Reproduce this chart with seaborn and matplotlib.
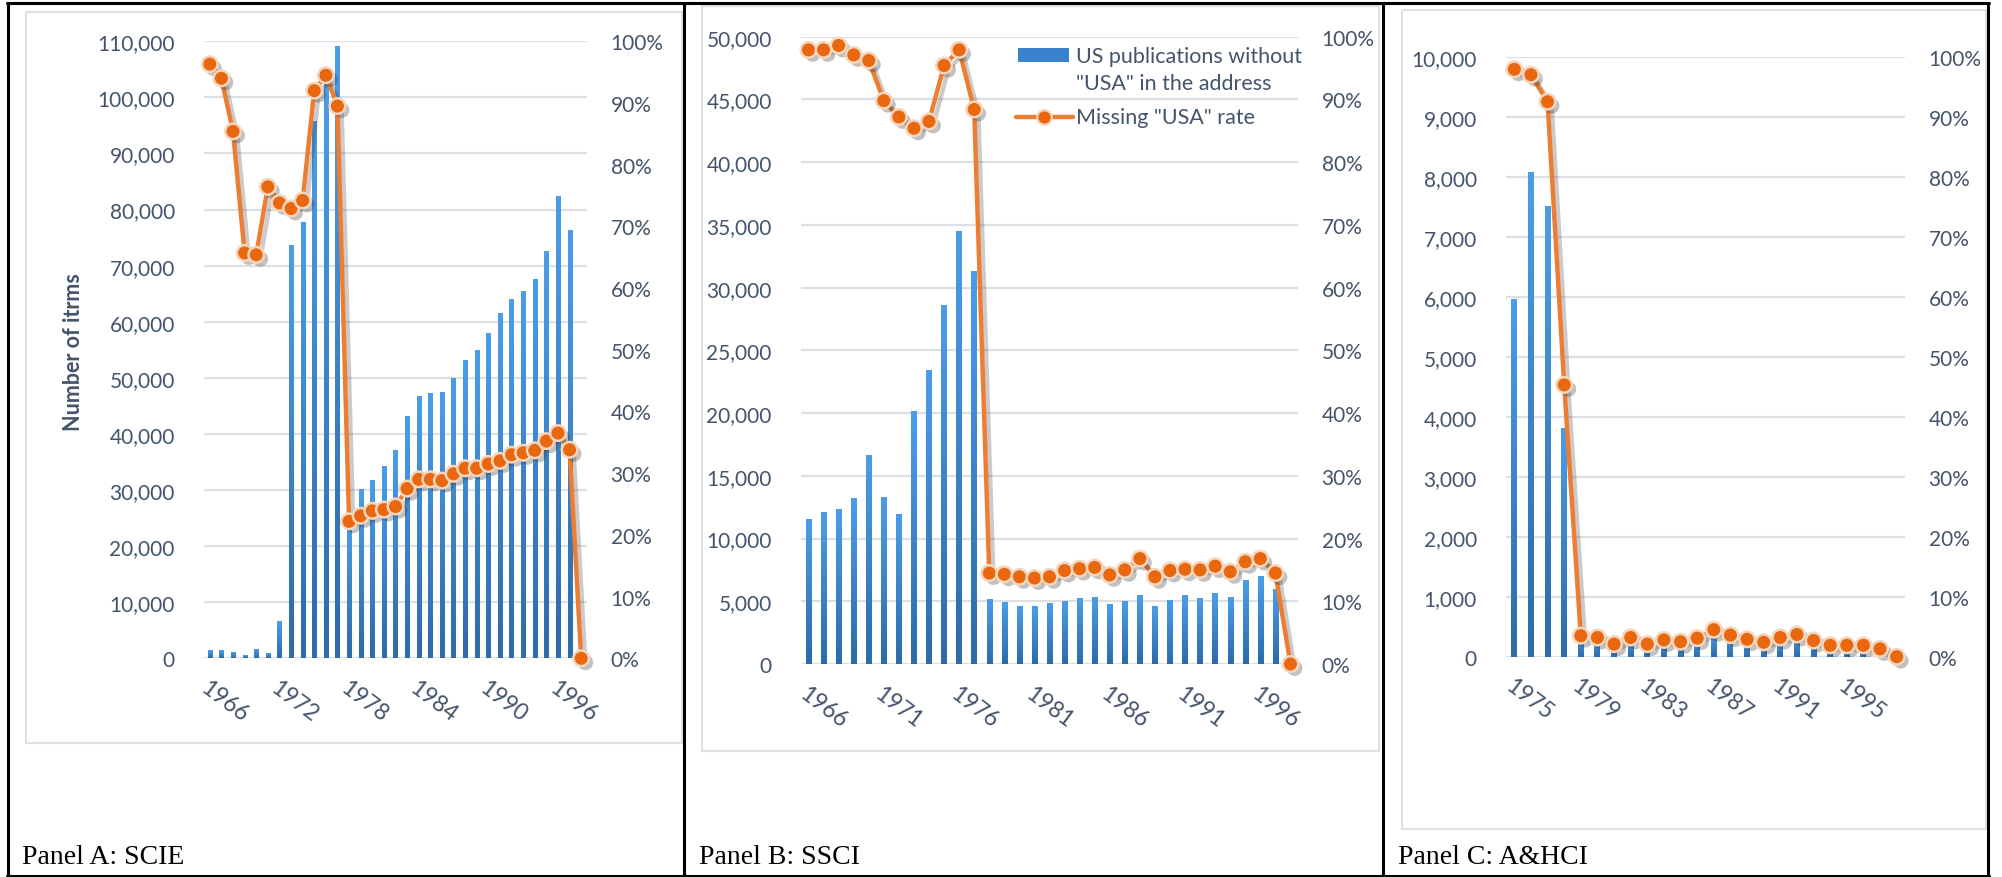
import numpy as np
import matplotlib
matplotlib.use('Agg')
import matplotlib.pyplot as plt
import matplotlib.patheffects as pe
from matplotlib.colors import LinearSegmentedColormap
from matplotlib.lines import Line2D
from matplotlib.patches import Rectangle
from matplotlib.ticker import FuncFormatter, PercentFormatter, MultipleLocator
import seaborn as sns

# ---- data ----
scie_years = list(range(1966, 1999))
scie_items = [1400, 1400, 1000, 400, 1500, 800, 6500, 73500, 77600, 95600,
              102700, 109000, 24500, 30000, 31600, 34100, 37000, 43000, 46600,
              47100, 47300, 49900, 53000, 54900, 57800, 61400, 64000, 65400,
              67400, 72400, 82300, 76300, 0]
scie_rate = [0.963, 0.940, 0.854, 0.657, 0.654, 0.764, 0.738, 0.729, 0.742,
             0.920, 0.945, 0.895, 0.222, 0.231, 0.239, 0.241, 0.246, 0.275,
             0.290, 0.290, 0.288, 0.299, 0.308, 0.308, 0.315, 0.320, 0.330,
             0.333, 0.337, 0.352, 0.365, 0.338, 0.0]

ssci_years = list(range(1966, 1999))
ssci_items = [11480, 12040, 12350, 13230, 16600, 13310, 11900, 20140, 23380,
              28560, 34510, 31320, 5180, 4940, 4620, 4620, 4810, 5020, 5260,
              5340, 4780, 5020, 5450, 4620, 5100, 5450, 5260, 5580, 5340,
              6620, 7010, 5900, 0]
ssci_rate = [0.979, 0.979, 0.986, 0.971, 0.962, 0.898, 0.872, 0.854, 0.865,
             0.954, 0.979, 0.884, 0.145, 0.143, 0.139, 0.137, 0.139, 0.149,
             0.152, 0.154, 0.142, 0.150, 0.168, 0.139, 0.149, 0.151, 0.150,
             0.156, 0.147, 0.163, 0.168, 0.145, 0.0]

ahci_years = list(range(1975, 1999))
ahci_items = [5960, 8080, 7510, 3810, 350, 320, 200, 300, 220, 270, 230, 300,
              420, 350, 300, 230, 330, 380, 280, 200, 200, 200, 150, 0]
ahci_rate = [0.979, 0.970, 0.925, 0.453, 0.035, 0.032, 0.021, 0.032, 0.021,
             0.028, 0.025, 0.031, 0.045, 0.036, 0.029, 0.024, 0.032, 0.037,
             0.027, 0.019, 0.019, 0.019, 0.013, 0.0]

bar_label = 'US publications without\n"USA" in the address'
line_label = 'Missing "USA" rate'

# ---- styling ----
TEXT = '#44546A'
GRID = '#DCE0E6'
LINE = '#ED7D31'
MARK = '#E8670F'
MARK_EDGE = '#F3D6BE'
bar_cmap = LinearSegmentedColormap.from_list('bars', ['#2D6BAA', '#4B9DE8'])

W, H = 2002, 878


def fx(px):
    return px / W


def fy(py):
    return 1 - py / H


def draw_panel(fig, box, years, items, rate, ymax, ystep, label_step):
    left, top, right, bottom = box
    ax = fig.add_axes([fx(left), fy(bottom), fx(right - left), (bottom - top) / H])
    labels = [str(y) for y in years]
    n = len(labels)

    sns.barplot(x=labels, y=items, order=labels, ax=ax, color='#3A82CC',
                width=0.36, saturation=1, errorbar=None)

    # Excel style vertical gradient on each bar
    grad = np.linspace(1, 0, 64).reshape(-1, 1)
    for bar in list(ax.patches):
        x0, y0 = bar.get_xy()
        w, h = bar.get_width(), bar.get_height()
        if h <= 0:
            continue
        ax.imshow(grad, extent=[x0, x0 + w, y0, y0 + h], aspect='auto',
                  cmap=bar_cmap, vmin=0, vmax=1, zorder=2, interpolation='bilinear')
        bar.set_visible(False)

    ax2 = ax.twinx()
    xs = np.arange(n)
    sns.lineplot(x=xs, y=rate, ax=ax2, color=LINE, lw=3.2, clip_on=False, zorder=3,
                 path_effects=[pe.SimpleLineShadow(offset=(3, -3), shadow_color='#333333', alpha=0.25),
                               pe.Normal()])
    sns.scatterplot(x=xs, y=rate, ax=ax2, s=125, color=MARK, edgecolor=MARK_EDGE,
                    linewidth=1.8, zorder=4, clip_on=False,
                    path_effects=[pe.SimplePatchShadow(offset=(3, -3), shadow_rgbFace='#333333', alpha=0.3),
                                  pe.Normal()])

    ax.set_xlim(-0.5, n - 0.5)
    ax.set_ylim(0, ymax)
    ax2.set_ylim(0, 1)
    ax.yaxis.set_major_locator(MultipleLocator(ystep))
    ax.yaxis.set_major_formatter(FuncFormatter(lambda v, p: f'{v:,.0f}'))
    ax2.yaxis.set_major_locator(MultipleLocator(0.1))
    ax2.yaxis.set_major_formatter(PercentFormatter(1.0, decimals=0))

    ax.grid(axis='y', color=GRID, lw=1.6)
    ax.grid(axis='x', visible=False)
    ax.set_axisbelow(True)
    ax2.grid(False)
    for a in (ax, ax2):
        for s in a.spines.values():
            s.set_visible(False)
        a.set_xlabel('')
        a.set_ylabel('')

    ticks = np.arange(0, n, label_step)
    ax.set_xticks(ticks)
    ax.set_xticklabels([labels[i] for i in ticks], rotation=-37, ha='left',
                       va='top', rotation_mode='anchor')
    ax.tick_params(axis='x', length=0, pad=13, labelsize=16.5, labelcolor=TEXT)
    ax.tick_params(axis='y', length=0, pad=21, labelsize=15, labelcolor=TEXT)
    ax2.tick_params(axis='y', length=0, pad=17, labelsize=15, labelcolor=TEXT)
    return ax, ax2


sns.set_theme(style='white')
plt.rcParams['font.family'] = ['Lato', 'DejaVu Sans']

fig = plt.figure(figsize=(W / 100, H / 100), dpi=100)

# light chart-area frames as exported from Excel
for x0, y0, x1, y1 in [(26, 13, 682, 744), (702, 7, 1379, 752), (1402, 11, 1986, 830)]:
    fig.add_artist(Rectangle((fx(x0), fy(y1)), fx(x1 - x0), (y1 - y0) / H,
                             transform=fig.transFigure, fill=False,
                             edgecolor='#DDE2E9', lw=1.5))

axA, _ = draw_panel(fig, (204, 42.3, 587, 659.3), scie_years, scie_items, scie_rate,
                    110000, 10000, 6)
axB, _ = draw_panel(fig, (801, 37.7, 1298, 665), ssci_years, ssci_items, ssci_rate,
                    50000, 5000, 5)
axC, _ = draw_panel(fig, (1506, 57.7, 1905, 657.7), ahci_years, ahci_items, ahci_rate,
                    10000, 1000, 4)

fig.text(fx(74), fy(352), 'Number of itrms', rotation=90, ha='center', va='center',
         fontsize=15.5, fontweight='bold', color=TEXT)

# legend of panel B, drawn in figure pixels
fig.add_artist(Rectangle((fx(1018), fy(62.7)), fx(51), 13.4 / H, transform=fig.transFigure,
                         facecolor='#3A82CC', edgecolor='none'))
fig.add_artist(Line2D([fx(1016), fx(1073)], [fy(118), fy(118)], transform=fig.transFigure,
                      color=LINE, lw=3.2, zorder=5))
fig.add_artist(Line2D([fx(1043.5)], [fy(118)], transform=fig.transFigure, ls='none',
                      marker='o', ms=10.5, mfc=MARK, mec=MARK_EDGE, mew=1.6, zorder=6))
fig.text(fx(1076), fy(70.5), bar_label, ha='left', va='center', fontsize=15.5,
         color=TEXT, linespacing=1.4)
fig.text(fx(1076), fy(118), line_label, ha='left', va='center', fontsize=15.5, color=TEXT)

# table borders
border = dict(transform=fig.transFigure, color='black', lw=2.2)
fig.add_artist(Line2D([fx(7), fx(1989)], [fy(4), fy(4)], **border))
fig.add_artist(Line2D([fx(7), fx(1989)], [fy(877), fy(877)], **border))
for xb in (8, 684, 1383, 1988):
    fig.add_artist(Line2D([fx(xb), fx(xb)], [fy(4), fy(877)], **border))

serif = dict(family=['Liberation Serif', 'DejaVu Serif'], fontsize=20, va='center',
             color='black')
fig.text(fx(22), fy(858), 'Panel A: SCIE', **serif)
fig.text(fx(699), fy(858), 'Panel B: SSCI', **serif)
fig.text(fx(1398), fy(858), 'Panel C: A&HCI', **serif)

fig.savefig('out.png', dpi=100)
